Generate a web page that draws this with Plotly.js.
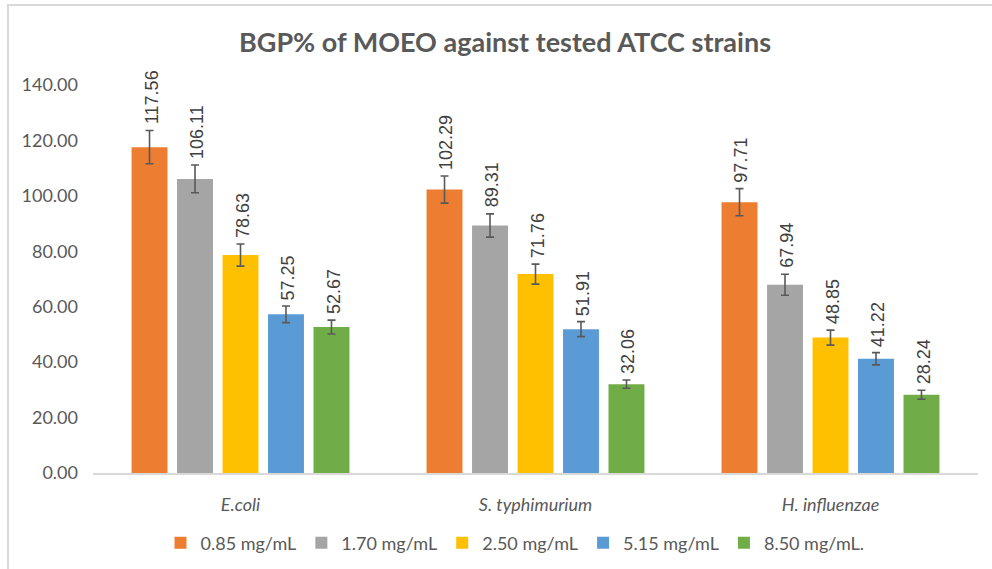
<!DOCTYPE html>
<html>
<head>
<meta charset="utf-8">
<script src="https://cdn.plot.ly/plotly-3.0.1.min.js"></script>
<style>
  html, body { margin: 0; padding: 0; background: #fff; }
  #chart { width: 992px; height: 569px; }
  #frame { position: absolute; left: 7px; top: 4px; width: 1000px; height: 600px;
           border: 2px solid #d9d9d9; pointer-events: none; }
</style>
</head>
<body>
<div id="chart"></div>
<div id="frame"></div>
<script>
const categories = ["E.coli", "S. typhimurium", "H. influenzae"];
const seriesNames = ["0.85 mg/mL", "1.70 mg/mL", "2.50 mg/mL", "5.15 mg/mL", "8.50 mg/mL."];
const v085 = [117.56, 102.29, 97.71];
const v170 = [106.11, 89.31, 67.94];
const v250 = [78.63, 71.76, 48.85];
const v515 = [57.25, 51.91, 41.22];
const v850 = [52.67, 32.06, 28.24];
const e085 = [6.0, 4.9, 4.9];
const e170 = [5.0, 4.2, 3.8];
const e250 = [4.0, 3.6, 2.7];
const e515 = [3.0, 2.7, 2.2];
const e850 = [2.5, 1.5, 1.6];
const yTicks = [0, 20, 40, 60, 80, 100, 120, 140];

const values = [v085, v170, v250, v515, v850];
const errors = [e085, e170, e250, e515, e850];
const colors = ["#ED7D31", "#A5A5A5", "#FFC000", "#5B9BD5", "#70AD47"];

const bargap = 0.229, bargroupgap = 0.21;
const nS = values.length;
const txtColor = "#595959";
const ML = 93, MR = 14, MT = 85, MB = 96, W = 992, H = 569;
const PW = W - ML - MR, PH = H - MT - MB;

const traces = values.map((vals, j) => ({
  type: "bar",
  name: seriesNames[j],
  x: categories.map(c => "<i>" + c + "</i>"),
  y: vals,
  marker: { color: colors[j] },
  error_y: { type: "data", array: errors[j], visible: true, color: "#595959", thickness: 1.6, width: 4 },
  hoverinfo: "none"
}));

const annotations = [];
values.forEach((vals, j) => {
  const off = -(1 - bargap) / 2 + (j + 0.5) * (1 - bargap) / nS;
  vals.forEach((v, i) => {
    annotations.push({
      x: i + off, y: v + errors[j][i], xref: "x", yref: "y",
      text: v.toFixed(2), showarrow: false, textangle: -90,
      xanchor: "center", yanchor: "bottom", xshift: 2, yshift: 4,
      font: { family: "Liberation Sans, Arial, sans-serif", size: 18, color: "#404040" }
    });
  });
});

const layout = {
  width: W, height: H,
  margin: { l: ML, r: MR, t: MT, b: MB, autoexpand: false },
  paper_bgcolor: "#fff", plot_bgcolor: "#fff",
  title: { text: "<b>BGP% of MOEO against tested ATCC strains</b>",
           font: { family: "Lato, sans-serif", size: 27, color: txtColor },
           x: 505 / W, xanchor: "center", xref: "container", y: 1 - 43 / H, yanchor: "middle", yref: "container" },
  barmode: "group", bargap: bargap, bargroupgap: bargroupgap,
  xaxis: { type: "category", showline: true, linecolor: "#d9d9d9", linewidth: 1.5,
           ticks: "", ticklabelstandoff: 15, showgrid: false, zeroline: false,
           tickfont: { family: "Lato, sans-serif", size: 18, color: txtColor } },
  yaxis: { range: [0, 140], tickvals: yTicks, ticktext: yTicks.map(t => t.toFixed(2)),
           showgrid: false, zeroline: false, showline: false, ticks: "",
           ticklabelstandoff: 14,
           tickfont: { family: "Lato, sans-serif", size: 18, color: txtColor } },
  legend: { orientation: "h", x: (515 - ML) / PW, xanchor: "center", y: -(543 - 473) / PH, yanchor: "middle",
            font: { family: "Lato, sans-serif", size: 18, color: txtColor },
            traceorder: "normal", itemwidth: 30 },
  annotations: annotations,
  showlegend: true
};

Plotly.newPlot("chart", traces, layout, { displayModeBar: false, staticPlot: true });
</script>
</body>
</html>
